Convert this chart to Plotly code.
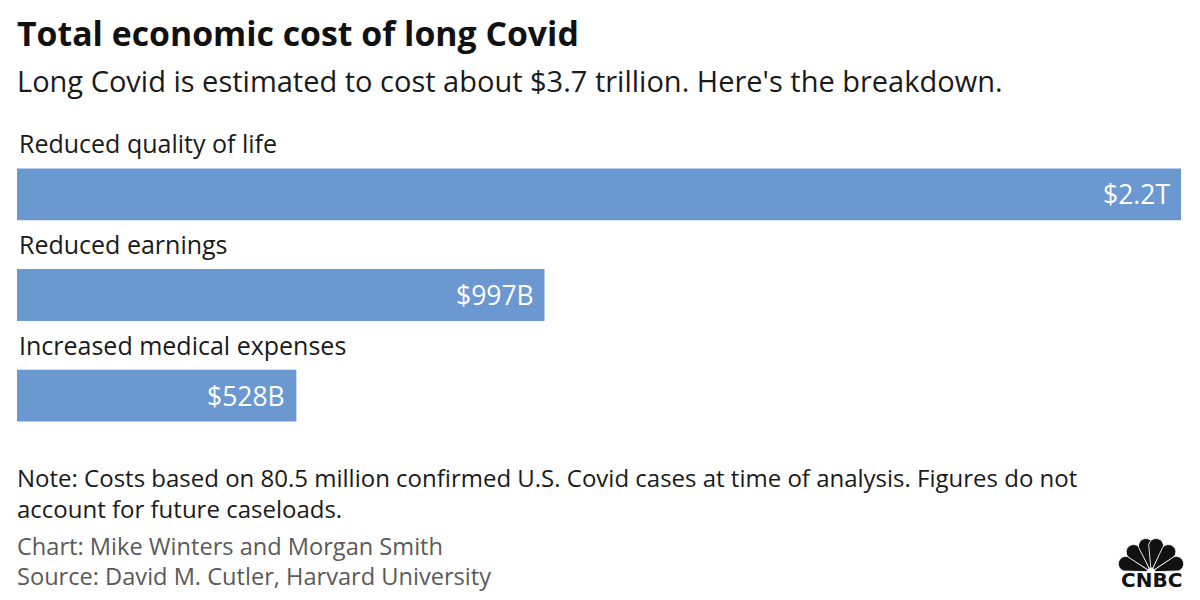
import base64
import math

import plotly.graph_objects as go

# Data
categories = ["Reduced quality of life", "Reduced earnings", "Increased medical expenses"]
costs_billion = [2200, 997, 528]
value_labels = ["$2.2T", "$997B", "$528B"]

TITLE = "Total economic cost of long Covid"
SUBTITLE = "Long Covid is estimated to cost about $3.7 trillion. Here's the breakdown."
NOTE = ("Note: Costs based on 80.5 million confirmed U.S. Covid cases at time of analysis. "
        "Figures do not<br>account for future caseloads.")
CREDIT = "Chart: Mike Winters and Morgan Smith"
SOURCE = "Source: David M. Cutler, Harvard University"

BAR_COLOR = "#6b98d1"
FONT = "Open Sans"

# Plot area in pixels
FIG_W, FIG_H = 1200, 600
MARGIN = {"l": 17, "r": 19, "t": 144, "b": 154}
PLOT_W = FIG_W - MARGIN["l"] - MARGIN["r"]
PLOT_H = FIG_H - MARGIN["t"] - MARGIN["b"]


def paper_x(px):
    return (px - MARGIN["l"]) / PLOT_W


def paper_y(py):
    return 1 - (py - MARGIN["t"]) / PLOT_H


def peacock_svg():
    # rough peacock feathers for the logo: round-tipped wedges fanned from one point
    bx, by = 34, 37
    length, w, d0 = 34, 7.5, 4
    tip = bx + length - w
    parts = []
    for ang in [162, 131, 101, 79, 49, 18]:
        path = (f"M {bx + d0} {by - 1} L {tip} {by - w} "
                f"A {w} {w} 0 0 1 {tip} {by + w} L {bx + d0} {by + 1} Z")
        parts.append(
            f'<path d="{path}" transform="rotate({-ang} {bx} {by})" '
            f'fill="#111" stroke="white" stroke-width="0.8"/>'
        )
    svg = ('<svg xmlns="http://www.w3.org/2000/svg" viewBox="0 0 68 38" width="68" height="38">'
           + "".join(parts) + "</svg>")
    return "data:image/svg+xml;base64," + base64.b64encode(svg.encode()).decode()


fig = go.Figure()

fig.add_trace(
    go.Bar(
        x=costs_billion,
        y=categories,
        orientation="h",
        marker=dict(color=BAR_COLOR, line=dict(width=0)),
        hoverinfo="skip",
    )
)

annotations = []

# category labels above each bar
for cat in categories:
    annotations.append(dict(
        x=0, y=cat, xref="x", yref="y", xanchor="left", yanchor="middle",
        yshift=51, text=cat, showarrow=False,
        font=dict(family=FONT, size=25, color="#1a1a1a"),
    ))

# value labels inside bar ends
for cat, val, lab in zip(categories, costs_billion, value_labels):
    annotations.append(dict(
        x=val, y=cat, xref="x", yref="y", xanchor="right", yanchor="middle",
        xshift=-9, text=lab, showarrow=False,
        font=dict(family=FONT, size=26.5, color="white"),
    ))


def text_block(text, py, size, color, bold=False):
    return dict(
        x=paper_x(15), y=paper_y(py), xref="paper", yref="paper",
        xanchor="left", yanchor="middle", align="left",
        text=f"<b>{text}</b>" if bold else text, showarrow=False,
        font=dict(family=FONT, size=size, color=color),
    )


annotations += [
    text_block(TITLE, 33, 33.8, "#111111", bold=True),
    text_block(SUBTITLE, 80, 29, "#1a1a1a"),
    text_block(NOTE, 493, 24, "#1a1a1a"),
    text_block(CREDIT, 546, 23.6, "#5a5a5a"),
    text_block(SOURCE, 576, 23.6, "#5a5a5a"),
    dict(
        x=paper_x(1151), y=paper_y(580), xref="paper", yref="paper",
        xanchor="center", yanchor="middle", text="<b>CNBC</b>", showarrow=False,
        font=dict(family="DejaVu Sans", size=20, color="#111111"),
    ),
]

fig.update_layout(
    width=FIG_W,
    height=FIG_H,
    margin=MARGIN,
    plot_bgcolor="white",
    paper_bgcolor="white",
    showlegend=False,
    bargap=0.485,
    xaxis=dict(range=[0, max(costs_billion)], visible=False, fixedrange=True),
    yaxis=dict(
        categoryorder="array", categoryarray=categories,
        range=[len(categories) - 0.5, -0.5],
        visible=False, fixedrange=True,
    ),
    annotations=annotations,
    images=[dict(
        source=peacock_svg(), xref="paper", yref="paper",
        x=paper_x(1117), y=paper_y(535), sizex=68 / PLOT_W, sizey=38 / PLOT_H,
        xanchor="left", yanchor="top", sizing="stretch", layer="above",
    )],
)

# the page's default body margin would push the figure 8px down and right
fig.write_html(
    "out.html",
    config={"displayModeBar": False},
    post_script="document.body.style.margin = '0';",
)
